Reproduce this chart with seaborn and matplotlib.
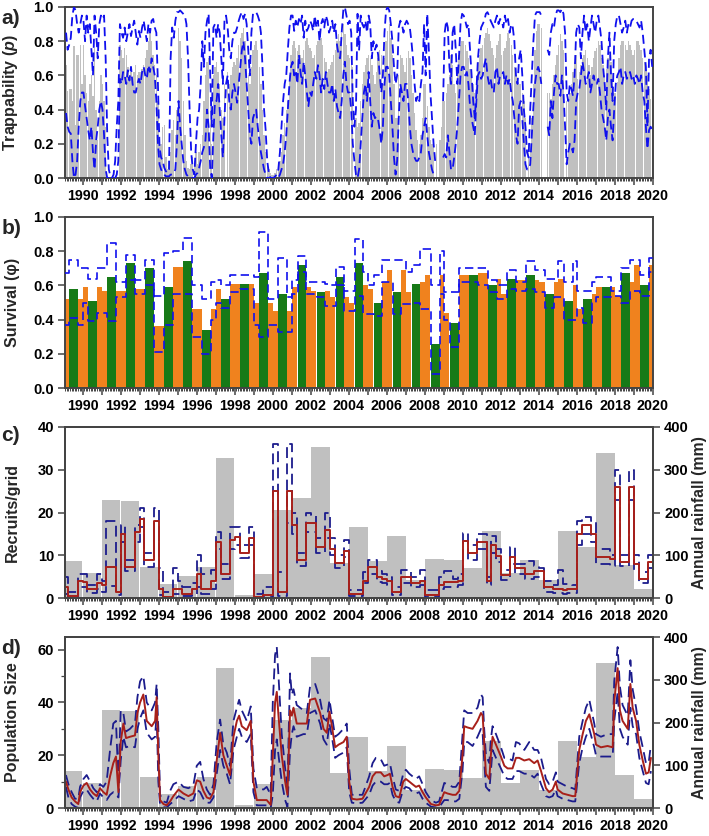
import numpy as np
import pandas as pd
import seaborn as sns
import matplotlib.pyplot as plt
from matplotlib.ticker import MultipleLocator, FuncFormatter

sns.set_theme(style='ticks')
plt.rcParams['font.family'] = ['Liberation Sans', 'DejaVu Sans']
plt.rcParams['font.weight'] = 'bold'
plt.rcParams['axes.labelweight'] = 'bold'
plt.rcParams['mathtext.fontset'] = 'custom'
plt.rcParams['mathtext.it'] = 'Liberation Sans:italic:bold'
plt.rcParams['mathtext.rm'] = 'Liberation Sans:bold'

nan = np.nan
years = np.arange(1989, 2020)

# a) trappability, monthly Jan..Dec per row
trap_p = [
    nan, .66, .51, .52, .52, .45, .77, .31, .72, .72, .78, .55,
    .78, .60, .50, .45, .55, .60, .48, .76, .40, .22, .45, .60,
    .55, .45, .30, nan, nan, nan, nan, nan, nan, nan, nan, .78,
    .75, .70, .76, .72, .65, .60, .62, .58, .62, .66, .60, .62,
    .62, .64, .66, .70, .75, .80, .85, .80, .72, .66, .60, .45,
    .22, .20, .30, .31, .12, .05, .10, .15, .28, .34, .25, .40,
    .88, .80, .70, .45, .25, .10, .06, .05, .08, .12, .10, .15,
    .08, .15, .20, .25, .45, .60, .68, .70, .45, .20, .60, .65,
    .68, .62, .55, .40, .35, .55, nan, .62, .55, .60, .65, .68,
    .66, .70, .78, .82, .85, .88, .80, .72, .60, .55, .65, .75,
    .78, .80, .75, .65, .55, .40, .25, .15, .08, .05, .03, .02,
    .02, .03, .05, .08, .10, .15, .25, .32, .40, .45, .60, .72,
    .78, .80, .76, .74, .78, .72, .70, .75, .80, .82, .78, .76,
    .74, .70, .72, .78, .80, .84, .82, .78, .70, .68, .62, .64,
    .66, .68, .72, .75, .80, .84, .80, .85, .90, .84, .78, .72,
    .70, .70, .65, nan, .35, .30, .32, .45, .55, .62, .66, .70,
    .72, .70, .66, .60, .55, .62, .70, .75, .72, .55, .70, .80,
    .86, .90, .82, .72, .55, .35, .35, .60, .72, .70, .66, .62,
    .70, .74, .70, .60, .50, .38, .28, .22, .20, .25, .35, .55,
    .55, .42, .30, .22, .20, .22, nan, .20, nan, .22, .30, .45,
    .45, .50, .55, .60, .72, .66, .55, .50, .62, .72, .78, .80,
    .80, .78, .74, .70, .64, .60, .55, .50, .60, .68, .72, .76,
    .78, .82, .85, .88, .84, .80, .76, .72, .70, .78, .80, .84,
    .72, .74, .76, .80, .85, .82, .78, .72, .65, .60, .56, .55,
    .55, .50, .45, .35, nan, .20, .15, .35, .55, .75, .86, .90,
    .90, .88, nan, nan, nan, .50, .50, .46, .55, .60, .66, .72,
    .78, .84, .80, .75, nan, .45, .46, .50, .55, .62, .68, .72,
    .58, .62, .66, .70, .72, .75, .70, .66, .60, .65, .70, .74,
    .76, .80, .78, .70, .66, .60, .64, .70, .72, .68, .58, .50,
    .50, .56, .70, .78, .80, .80, .78, .75, .80, .78, .75, .72,
    .75, .80, .80, .78, .75, .70, .68, .64, .60, .52, .46, .45,
]
trap_hi = [
    nan, .85, .75, .78, .82, .95, 1.0, .98, .90, .85, .90, .95,
    .92, .80, .95, .85, .90, .75, .60, .95, .85, .70, .90, .95,
    .93, .95, .70, .25, .05, .01, .00, .02, .10, .30, .45, .90,
    .85, .82, .88, .80, .85, .90, .83, .88, .92, .85, .78, .86,
    .82, .88, .92, .86, .80, .90, .85, .92, .93, .88, .85, .55,
    .18, .12, .10, .06, .04, .03, .05, .70, .88, .82, .92, .97,
    .97, .98, .97, .96, .95, .90, .70, .40, .15, .05, .02, .20,
    .35, .40, .55, .80, .65, .85, .92, .96, .60, .30, .88, .90,
    .82, .90, .85, .70, .55, .92, .95, .88, .75, .70, .80, .85,
    .85, .88, .92, .95, .97, .93, .96, .90, .75, .60, .85, .96,
    .96, .97, .95, .92, .85, .65, .40, .28, .10, .03, .00, .00,
    .00, .01, .02, .05, .15, .30, .45, .55, .60, .75, .88, .95,
    .95, .86, .92, .88, .93, .90, .95, .82, .92, .86, .88, .92,
    .90, .86, .95, .88, .92, .80, .90, .93, .88, .95, .92, .85,
    .88, .92, .85, .90, .78, .72, .70, .85, .98, 1.0, .95, .90,
    .92, .85, .45, .30, .40, .96, .75, .95, .90, .88, .92, .85,
    .95, .90, .70, .80, .75, .78, .72, .60, .50, .60, .85, .98,
    1.0, .98, .90, .80, .65, .55, .60, .88, .92, .90, .85, .90,
    .92, .90, .88, .80, .70, .55, .45, .48, .45, .55, .62, .90,
    .60, .96, .75, .50, .35, .20, .10, nan, nan, nan, nan, .45,
    .85, .92, .88, .65, .55, .85, .90, .75, .55, .70, .90, .96,
    .95, .92, .88, .90, .75, .60, .45, .35, .50, .70, .80, .88,
    .90, .92, .96, .97, .95, .92, .90, .88, .92, .95, .90, .93,
    .92, .88, .95, .90, .93, .85, .90, .88, .80, .60, .55, .70,
    .75, .60, .40, .30, .15, .12, .40, .60, .80, .95, .97, .97,
    .97, .95, nan, nan, nan, .75, .72, .85, .90, .88, .95, .98,
    .98, .97, .99, .96, .85, .50, .45, .55, .52, .48, .60, .85,
    .90, .88, .70, .85, .95, .85, .90, .80, .88, .95, .90, .85,
    .92, .95, .88, .80, .65, .55, .40, .70, .85, .60, .45, .80,
    .90, .95, .95, .90, .85, .88, .92, .85, .90, .88, .92, .93,
    .93, .92, .90, .88, .92, .85, .75, .65, .30, .70, .75, .65,
]
trap_lo = [
    nan, .38, .30, .27, .26, .10, .00, .02, .10, .30, .45, .50,
    .50, .42, .35, .28, .22, .30, .15, .05, .22, .30, .40, .45,
    .40, .25, .05, .00, .00, .00, .00, .00, .00, .02, .10, .58,
    .55, .62, .60, .55, .63, .57, .65, .55, .50, .50, .55, .58,
    .55, .62, .65, .60, .58, .66, .62, .70, .65, .60, .45, .20,
    .08, .05, .03, .02, .01, .01, .01, .02, .02, .03, .05, .20,
    .45, .30, .20, .10, .05, .02, .01, .00, .00, .00, .00, .02,
    .03, .06, .10, .15, .18, .22, .40, .30, .05, .00, .25, .45,
    .45, .55, .40, .25, .12, .35, .55, .60, .45, .40, .50, .55,
    .50, .44, .55, .65, .75, .80, .70, .55, .40, .25, .20, .35,
    .38, .40, .30, .22, .15, .10, .05, .02, .00, .00, .00, .00,
    .00, .00, .00, .00, .02, .05, .08, .15, .25, .40, .55, .65,
    .68, .60, .63, .55, .72, .62, .55, .68, .60, .50, .42, .50,
    .48, .55, .62, .58, .66, .60, .50, .58, .52, .62, .55, .50,
    .50, .55, .45, .52, .42, .38, .35, .45, .60, .68, .55, .50,
    .50, .40, .20, .10, .02, .00, .05, .20, .35, .50, .55, .45,
    .62, .45, .30, .38, .35, .36, .34, .28, .20, .30, .55, .65,
    .65, .60, .45, .30, .12, .02, .10, .35, .55, .50, .45, .55,
    .55, .45, .30, .20, .15, .12, .10, .10, .12, .15, .25, .30,
    .35, .25, .15, .10, .05, .02, .01, nan, nan, nan, nan, .12,
    .14, .12, .25, .15, .05, .05, .12, .20, .30, .45, .60, .65,
    .65, .60, .62, .55, .42, .35, .30, .25, .45, .60, .62, .58,
    .60, .66, .70, .60, .55, .58, .52, .50, .62, .65, .55, .60,
    .60, .62, .55, .60, .55, .58, .50, .45, .35, .25, .20, .42,
    .45, .35, .20, .08, .05, .05, .08, .25, .42, .55, .62, .65,
    .62, .55, nan, nan, nan, .30, .25, .45, .35, .50, .60, .55,
    .55, .48, .60, .50, .30, .08, .15, .20, .18, .15, .22, .45,
    .50, .52, .60, .68, .62, .55, .58, .62, .50, .55, .60, .55,
    .55, .58, .50, .40, .35, .30, .22, .35, .40, .30, .22, .40,
    .55, .60, .62, .65, .55, .60, .62, .58, .60, .62, .58, .60,
    .55, .60, .58, .55, .60, .50, .45, .30, .17, .28, .30, .28,
]

# b) survival: early-year (orange), dry season (green), late-year (orange)
surv_q1 = [.52, .59, .57, .57, .58, .36, .71, .46, .58, .61, .50, .45, .59, .57, .53, .50,
           .58, .69, .56, .66, .44, .66, .67, .55, .63, .62, .64, .46, .59, .54, .72]
surv_dry = [.58, .51, .65, .73, .70, .59, .74, .34, .52, .61, .67, .55, .72, .56, .65, .73,
            .50, .56, .61, .26, .38, .66, .60, .64, .66, .55, .51, .52, .59, .67, .60]
surv_q4 = [.52, .59, .57, .58, .36, .71, .46, .46, .61, .61, .50, .45, .59, .57, .53, .60,
           .62, .69, .62, .66, .66, .67, .64, .63, .63, .62, .60, .55, .59, .62, .72]
surv_hi = [
    .67, .75, .70,  .70, .64, .70,  .70, .85, .62,  .62, .78, .63,  .63, .75, .54,
    .54, .79, .80,  .80, .88, .60,  .60, .52, .62,  .63, .60, .66,  .66, .66, .66,
    .65, .91, .52,  .52, .76, .53,  .63, .77, .62,  .62, .62, .61,  .60, .71, .57,
    .57, .87, .68,  .60, .66, .75,  .75, .75, .75,  .68, .72, .81,  .81, .60, .80,
    .56, .56, .70,  .70, .70, .70,  .70, .63, .60,  .60, .69, .62,  .62, .74, .69,
    .69, .64, .64,  .74, .62, .74,  .57, .57, .62,  .65, .65, .57,  .57, .70, .75,
    .75, .66, .76,
]
surv_lo = [
    .37, .41, .37,  .50, .39, .44,  .44, .39, .53,  .53, .63, .55,  .55, .60, .21,
    .21, .37, .55,  .55, .55, .30,  .30, .20, .40,  .50, .47, .56,  .56, .58, .58,
    .37, .30, .37,  .37, .33, .33,  .55, .68, .55,  .55, .53, .48,  .48, .60, .45,
    .45, .54, .43,  .43, .42, .62,  .62, .43, .49,  .49, .50, .46,  .46, .08, .55,
    .40, .24, .62,  .62, .62, .60,  .60, .56, .52,  .52, .58, .57,  .57, .58, .56,
    .56, .47, .53,  .53, .40, .40,  .47, .38, .50,  .53, .53, .54,  .54, .50, .57,
    .57, .54, .68,
]

# annual rainfall (mm), one bar per calendar year
rain = [86, 58, 230, 227, 73, 32, 51, 73, 328, 8, 56, 206, 234, 354, 82, 165,
        87, 145, 43, 92, 88, 71, 157, 58, 90, 42, 157, 120, 339, 78, 20]

# c) recruits per grid, quarterly
rec_med = [
    2.5, 0.5, 0.5, 4.0,  3.8, 2.0, 2.0, 3.5,  3.0, 7.2, 7.2, 1.5,  15.0, 7.3, 7.3, 15.5,
    18.5, 8.8, 8.8, 18.0,  2.0, 0.2, 0.2, 2.2,  2.2, 1.0, 1.0, 2.0,  5.5, 2.0, 2.0, 4.0,
    13.0, 5.5, 5.5, 13.5,  14.2, 10.5, 10.5, 14.0,  0.3, 0.3, 0.8, 0.8,  25.0, 1.5, 1.5, 25.0,
    17.0, 8.8, 8.8, 17.5,  17.5, 12.0, 12.0, 16.0,  11.5, 8.3, 8.3, 11.0,  1.0, 1.0, 1.0, 4.0,
    7.2, 7.2, 4.8, 4.5,  4.0, 1.5, 1.5, 5.0,  5.0, 3.5, 3.5, 4.0,  0.7, 0.7, 0.7, 3.0,
    3.8, 3.8, 3.8, 4.0,  13.3, 10.5, 10.5, 13.0,  13.0, 4.0, 12.5, 9.8,  5.3, 5.3, 9.5, 7.0,
    7.0, 5.5, 5.5, 6.2,  6.2, 2.5, 2.5, 2.2,  2.2, 1.8, 2.0, 2.0,  15.0, 17.0, 17.0, 15.0,
    9.5, 9.5, 9.5, 9.2,  26.0, 8.5, 8.5, 26.0,  8.0, 4.5, 4.5, 8.5,
]
rec_hi = [
    5.0, 1.5, 1.5, 5.5,  5.5, 3.0, 3.0, 5.5,  4.0, 18.0, 18.0, 3.0,  17.0, 9.0, 9.0, 17.0,
    21.0, 10.5, 10.5, 21.0,  7.0, 1.5, 1.5, 7.0,  4.0, 2.5, 2.5, 3.5,  10.0, 5.5, 5.5, 6.5,
    15.5, 8.0, 8.0, 16.5,  16.5, 12.5, 12.5, 16.5,  1.0, 1.0, 2.5, 2.5,  36.0, 6.0, 6.0, 36.0,
    20.0, 10.5, 10.5, 20.0,  19.5, 14.0, 14.0, 20.0,  14.0, 10.0, 10.0, 13.5,  1.8, 1.8, 1.8, 6.0,
    9.0, 9.0, 6.2, 5.5,  5.0, 2.5, 2.5, 6.5,  6.5, 5.0, 5.0, 6.5,  1.8, 1.8, 1.8, 5.0,
    6.2, 6.2, 4.5, 5.5,  15.2, 12.5, 12.5, 15.0,  15.0, 5.0, 14.5, 11.5,  6.5, 6.5, 12.0, 8.0,
    8.0, 8.6, 8.6, 7.5,  7.0, 4.0, 4.0, 3.0,  6.6, 3.2, 3.2, 3.0,  18.0, 19.0, 19.0, 18.0,
    11.5, 11.5, 11.5, 10.0,  30.0, 10.0, 10.0, 30.0,  10.0, 6.0, 6.0, 10.0,
]
rec_lo = [
    1.0, 0.0, 0.0, 2.5,  2.5, 1.2, 1.2, 2.0,  1.5, 2.8, 2.8, 0.8,  13.0, 6.3, 6.3, 13.0,
    16.5, 7.3, 7.3, 16.0,  0.8, 0.0, 0.0, 1.0,  1.0, 0.4, 0.4, 0.8,  2.5, 1.0, 1.0, 2.0,
    11.5, 4.5, 4.5, 11.5,  12.5, 9.3, 9.3, 12.5,  0.0, 0.0, 0.2, 0.2,  17.5, 0.5, 0.5, 17.5,
    15.0, 7.5, 7.5, 15.5,  15.5, 10.5, 10.5, 14.0,  10.0, 7.0, 7.0, 9.5,  0.5, 0.5, 0.5, 3.5,
    5.5, 5.5, 3.8, 3.5,  3.0, 0.8, 0.8, 3.5,  3.5, 2.5, 2.5, 3.0,  0.2, 0.2, 0.2, 2.0,
    2.5, 2.5, 2.5, 3.0,  11.5, 9.0, 9.0, 11.5,  11.5, 3.0, 10.5, 8.5,  4.2, 4.2, 8.0, 5.5,
    5.5, 4.5, 4.5, 5.0,  5.0, 1.5, 1.5, 1.2,  1.2, 1.0, 1.2, 1.2,  12.5, 15.0, 15.0, 13.0,
    8.0, 8.0, 8.0, 7.5,  23.0, 7.5, 7.5, 23.0,  6.5, 3.5, 3.5, 7.0,
]

# d) population size
pop_t = [
    1989.12, 1989.25, 1989.42, 1989.60, 1989.77, 1989.86, 1990.04, 1990.21, 1990.39, 1990.56,
    1990.74, 1990.91, 1991.09, 1991.26, 1991.44, 1991.61, 1991.75, 1991.88, 1992.00, 1992.14,
    1992.28, 1992.49, 1992.75, 1992.88, 1993.02, 1993.19, 1993.37, 1993.63, 1993.81, 1993.89,
    1993.98, 1994.07, 1994.25, 1994.42, 1994.60, 1994.77, 1995.04, 1995.30, 1995.56, 1995.82,
    1996.00, 1996.18, 1996.35, 1996.53, 1996.70, 1996.88, 1997.05, 1997.23, 1997.40, 1997.58,
    1997.75, 1997.93, 1998.11, 1998.23, 1998.37, 1998.63, 1998.84, 1998.98, 1999.16, 1999.51,
    1999.68, 1999.89, 2000.00, 2000.12, 2000.21, 2000.30, 2000.47, 2000.65, 2000.77, 2000.91,
    2001.00, 2001.09, 2001.26, 2001.61, 2001.79, 2001.96, 2002.23, 2002.49, 2002.67, 2002.84,
    2002.98, 2003.11, 2003.28, 2003.46, 2003.72, 2003.89, 2004.02, 2004.16, 2004.42, 2004.72,
    2005.07, 2005.25, 2005.42, 2005.68, 2005.86, 2006.04, 2006.16, 2006.30, 2006.47, 2006.65,
    2006.86, 2007.00, 2007.18, 2007.35, 2007.53, 2007.70, 2007.88, 2008.05, 2008.32, 2008.58,
    2008.75, 2009.02, 2009.19, 2009.46, 2009.63, 2009.81, 2009.98, 2010.07, 2010.25, 2010.51,
    2010.77, 2010.95, 2011.04, 2011.12, 2011.21, 2011.39, 2011.47, 2011.56, 2011.74, 2012.00,
    2012.18, 2012.35, 2012.61, 2012.79, 2012.96, 2013.23, 2013.49, 2013.75, 2013.93, 2014.11,
    2014.37, 2014.54, 2014.72, 2014.89, 2014.98, 2015.25, 2015.51, 2015.77, 2015.91, 2016.12,
    2016.30, 2016.47, 2016.65, 2016.91, 2017.00, 2017.26, 2017.61, 2017.88, 2017.96, 2018.14,
    2018.26, 2018.40, 2018.67, 2018.81, 2018.93, 2019.11, 2019.28, 2019.46, 2019.63, 2019.77,
    2019.89,
]
pop_med = [
    10, 7, 4, 2.5, 1.5, 6, 8.5, 9.5, 7, 5.5,
    4.5, 7.5, 6, 5, 12, 17, 19.5, 6, 25, 32,
    26.5, 27, 27.5, 36, 40, 43, 33, 31, 33, 42,
    20, 3, 1.5, 1.0, 2.5, 4.5, 7, 5.5, 4.5, 5.5,
    10.5, 10, 6.5, 4, 3.5, 6, 18, 28.5, 20, 16,
    12.5, 27, 33, 35, 31, 29.5, 33, 10, 3, 3,
    3, 1.2, 20, 40, 44, 35, 20, 10, 5, 37,
    35, 38, 32, 32, 32, 41, 41.5, 36, 30, 28.5,
    36.5, 31, 23, 24, 25, 27, 10, 3.5, 3.2, 3.5,
    8, 12, 13.5, 13.5, 12, 12.5, 13, 8, 4.5, 4,
    10, 11, 10, 9, 8, 8.5, 6, 4, 1.5, 1,
    1.2, 6, 5.5, 5, 5, 6.5, 20, 31, 30.5, 30,
    33, 36, 35, 25, 13, 11, 20, 27, 24, 19.5,
    16, 15, 15, 19, 19, 18, 18.5, 17, 18, 14,
    7.5, 6, 7, 10, 7, 5.5, 5, 4.5, 4.5, 22,
    28, 33, 35.5, 28, 24, 23, 23.5, 23, 40, 53,
    37, 33, 30, 47, 38, 33, 24, 18, 13, 13.5,
    19,
]
pop_hi = [
    12.5, 9, 6, 3.5, 3.5, 8, 11, 12.5, 10, 7.5,
    6, 9, 8, 10, 22, 32, 33, 10, 37, 36,
    29, 30, 32, 42, 48, 50, 40, 37, 40, 47,
    30, 5, 2.5, 2, 6.5, 9, 10, 8, 7.5, 8.5,
    16, 17.5, 11, 7, 5, 9, 25, 33.5, 24, 21,
    16, 33, 38, 41, 37, 33, 38.5, 15, 7.5, 7,
    8, 5, 40, 58, 61, 50, 28, 15, 8, 51,
    43, 45, 39, 37, 36, 46, 47, 41, 34, 33,
    41, 35, 27, 28, 30, 32, 15, 5, 5, 5,
    12, 17, 19, 18.5, 16, 16.5, 17, 12, 7, 6.5,
    13, 14.5, 13, 12, 11, 12, 9, 6, 3, 2,
    2.5, 9.5, 9, 8, 8, 10, 28, 37, 36, 36,
    38, 43, 42, 30, 20, 17, 26, 31, 28, 23,
    19, 19, 18, 25, 24.5, 22, 25, 22, 22, 19,
    11, 9, 10, 13.5, 10, 9, 8, 7.5, 7, 27,
    33, 38, 41, 32, 28, 27, 28, 28, 48, 61,
    46, 39, 35, 56, 45, 38, 29, 23, 17, 17,
    24,
]
pop_lo = [
    8, 4, 1.5, 0.5, 0, 4, 6.5, 7, 5, 3.5,
    2.5, 5.5, 4, 3, 5, 6, 5.5, 4, 18, 27,
    23, 23.5, 23, 30, 34, 37, 28.5, 26, 27, 36,
    10, 1, 0.3, 0.2, 1.5, 2.5, 4.5, 3.5, 2.5, 3,
    7, 6, 3.5, 2, 2, 4, 13, 22, 16, 13,
    9, 22, 27, 30, 27, 25, 28, 6, 1, 1,
    1, 0, 5, 22, 26, 20, 10, 3, 0.5, 22,
    28, 31, 27, 28, 28, 36, 37, 32, 26, 24,
    32, 27, 19, 20, 21, 23, 6, 2, 1.8, 2,
    5, 8.5, 10, 10, 9, 9, 9.5, 5, 2.5, 2,
    7, 8, 7.5, 6, 5.5, 6, 3.5, 2, 0.5, 0.2,
    0.3, 3, 3, 2.5, 2.5, 3.5, 14, 25, 25, 23.5,
    27, 30, 28, 18, 8, 6.5, 14, 22, 19, 15,
    12, 11, 11, 14, 14, 13, 13, 11.5, 13, 9,
    4.5, 4, 4.5, 7, 4.5, 3.5, 3, 2.5, 2.5, 17,
    23, 27, 30, 23, 20, 19.5, 19.5, 19.5, 33, 44,
    30, 27, 24, 38, 31, 28, 19, 14, 9.5, 9,
    14,
]

# colours
GREY = '#C0C0C0'
BLUE = '#1010EE'
ORANGE = '#F0821E'
GREEN = '#177A17'
DRED = '#A8201A'
NAVY = '#1C1C8C'
SPINE = '#444444'

month_t = np.repeat(years, 12) + (np.tile(np.arange(12), len(years)) + 0.5) / 12
df_a = pd.DataFrame({'t': month_t, 'p': trap_p, 'hi': trap_hi, 'lo': trap_lo})

seg_t = np.append((years[:, None] + np.array([0.0, 0.30, 0.77])).ravel(), 2020.0)
df_b = pd.DataFrame({'t': seg_t, 'hi': surv_hi + surv_hi[-1:], 'lo': surv_lo + surv_lo[-1:]})

q_t = np.append((years[:, None] + np.array([0.0, 0.25, 0.5, 0.75])).ravel(), 2020.0)
df_c = pd.DataFrame({'t': q_t, 'med': rec_med + rec_med[-1:],
                     'hi': rec_hi + rec_hi[-1:], 'lo': rec_lo + rec_lo[-1:]})
df_d = pd.DataFrame({'t': pop_t, 'med': pop_med, 'hi': pop_hi, 'lo': pop_lo})

fig = plt.figure(figsize=(7.09, 8.36), dpi=100)
L, W, H = 65 / 709, 588 / 709, 171 / 836
tops = [7, 217, 427, 637]
axs = [fig.add_axes([L, 1 - (t + 171) / 836, W, H]) for t in tops]

dash = (0, (5, 2.6))


def year_fmt(v, pos):
    y = int(round(v))
    return str(y) if y % 2 == 0 else ''


def style(ax):
    ax.set_xlim(1989.07, 2020.0)
    ax.xaxis.set_major_locator(MultipleLocator(1))
    ax.xaxis.set_minor_locator(MultipleLocator(1 / 12))
    ax.xaxis.set_major_formatter(FuncFormatter(year_fmt))
    ax.tick_params(axis='x', which='major', direction='out', length=5, width=1.1,
                   color=SPINE, labelsize=10.3, pad=3, labelcolor='black')
    ax.tick_params(axis='x', which='minor', direction='out', length=2.5, width=0.7, color=SPINE)
    ax.tick_params(axis='y', which='major', direction='out', length=5, width=1.1,
                   color=SPINE, labelsize=10.5, pad=3, labelcolor='black')
    ax.tick_params(axis='y', which='minor', direction='out', length=3, width=0.9, color=SPINE)
    for s in ax.spines.values():
        s.set_visible(True)
        s.set_color(SPINE)
        s.set_linewidth(1.4)
    ax.set_xlabel('')
    ax.yaxis.set_label_coords(-0.0765, 0.5)


# a) trappability
ax = axs[0]
ok = df_a.dropna(subset=['p'])
ax.bar(ok['t'], ok['p'], width=0.074, color=GREY, linewidth=0, zorder=1)
ax.plot(df_a['t'], df_a['hi'], color=BLUE, lw=1.3, ls=dash, zorder=3)
ax.plot(df_a['t'], df_a['lo'], color=BLUE, lw=1.3, ls=dash, zorder=3)
ax.set_ylim(0, 1.0)
ax.yaxis.set_major_locator(MultipleLocator(0.2))
ax.yaxis.set_major_formatter(FuncFormatter(lambda v, p: f'{v:.1f}'))
ax.set_ylabel(r'Trappability ($\mathit{p}$)', fontsize=11.5)
style(ax)

# b) survival
ax = axs[1]
ax.bar(years, surv_q1, width=0.295, align='edge', color=ORANGE, linewidth=0, zorder=1)
ax.bar(years + 0.30, surv_dry, width=0.47, align='edge', color=GREEN, linewidth=0, zorder=1)
ax.bar(years + 0.77, surv_q4, width=0.225, align='edge', color=ORANGE, linewidth=0, zorder=1)
sns.lineplot(data=df_b, x='t', y='hi', ax=ax, color=BLUE, lw=1.2, linestyle=dash,
             drawstyle='steps-post', estimator=None, zorder=3)
sns.lineplot(data=df_b, x='t', y='lo', ax=ax, color=BLUE, lw=1.2, linestyle=dash,
             drawstyle='steps-post', estimator=None, zorder=3)
ax.set_ylim(0, 1.0)
ax.yaxis.set_major_locator(MultipleLocator(0.2))
ax.yaxis.set_major_formatter(FuncFormatter(lambda v, p: f'{v:.1f}'))
ax.set_ylabel('Survival (φ)', fontsize=11.5)
style(ax)

# c) recruits, d) population size, with rainfall bars on the right axis
for ax, df, step, ylim, major, minor, lab in [
        (axs[2], df_c, True, 40, 10, None, 'Recruits/grid'),
        (axs[3], df_d, False, 64.8, 20, 10, 'Population Size')]:
    ax2 = ax.twinx()
    ax2.bar(years + 0.5, rain, width=0.97, color=GREY, linewidth=0)
    ax2.set_ylim(0, 400)
    ax2.yaxis.set_major_locator(MultipleLocator(100))
    ax2.tick_params(axis='y', direction='out', length=5, width=1.1, color=SPINE,
                    labelsize=10.5, pad=3, labelcolor='black')
    ax2.set_ylabel('Annual rainfall (mm)', fontsize=11.3)
    ax2.yaxis.set_label_coords(1.066, 0.5)
    for s in ax2.spines.values():
        s.set_color(SPINE)
        s.set_linewidth(1.4)
    ax.set_zorder(ax2.get_zorder() + 1)
    ax.patch.set_visible(False)

    kw = dict(drawstyle='steps-post') if step else {}
    sns.lineplot(data=df, x='t', y='hi', ax=ax, color=NAVY, lw=1.3, linestyle=(0, (6, 3)),
                 estimator=None, **kw)
    sns.lineplot(data=df, x='t', y='lo', ax=ax, color=NAVY, lw=1.3, linestyle=(0, (6, 3)),
                 estimator=None, **kw)
    sns.lineplot(data=df, x='t', y='med', ax=ax, color=DRED, lw=1.4, estimator=None, **kw)
    ax.set_ylim(0, ylim)
    ax.yaxis.set_major_locator(MultipleLocator(major))
    if minor:
        ax.yaxis.set_minor_locator(MultipleLocator(minor))
    ax.yaxis.set_major_formatter(FuncFormatter(lambda v, p: f'{v:.0f}'))
    ax.set_ylabel(lab, fontsize=11.5)
    style(ax)

for t, lab in zip([19, 228, 436, 649], ['a)', 'b)', 'c)', 'd)']):
    fig.text(0.002, 1 - t / 836, lab, fontsize=15, fontweight='bold', va='center', ha='left')

fig.savefig('out.png', dpi=100)
